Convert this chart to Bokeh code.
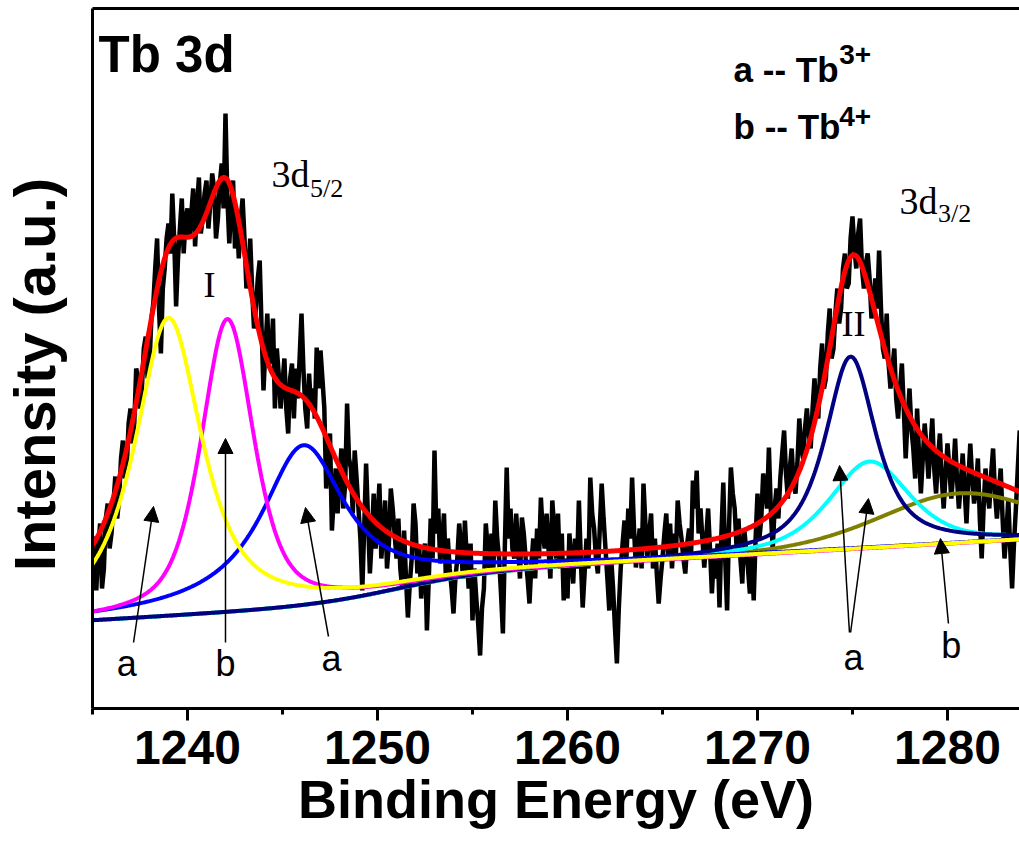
import numpy as np
from bokeh.plotting import figure
from bokeh.layouts import row
from bokeh.models import (Range1d, LinearAxis, FixedTicker, Label, Arrow,
                          NormalHead, SingleIntervalTicker)
from bokeh.embed import file_html
from bokeh.resources import INLINE

# ---------------- data ----------------
# raw Tb 3d spectrum, 0.1 eV steps from 1235.0 eV (arbitrary units)
energy_start = 1235.0
energy_step = 0.1
raw_counts = [
    150, 172, 118, 160, 185, 120, 140, 190, 205, 160,   # 1235
    175, 205, 232, 190, 210, 250, 268, 230, 240, 285,   # 1236
    300, 265, 285, 340, 330, 300, 320, 360, 372, 330,   # 1237
    345, 390, 405, 440, 470, 400, 355, 420, 440, 470,   # 1238
    485, 455, 515, 470, 402, 450, 480, 510, 455, 490,   # 1239
    500, 470, 495, 520, 462, 500, 531, 475, 490, 515,   # 1240
    528, 480, 505, 535, 520, 470, 490, 525, 545, 500,   # 1241
    595, 510, 465, 500, 528, 460, 491, 450, 490, 510,   # 1242
    470, 420, 435, 470, 420, 380, 400, 430, 448, 380,   # 1243
    318, 360, 395, 345, 350, 390, 300, 360, 335, 300,   # 1244
    325, 350, 300, 275, 330, 345, 290, 340, 310, 350,   # 1245
    395, 340, 300, 280, 335, 300, 320, 290, 361, 320,   # 1246
    358, 330, 301, 220, 250, 275, 178, 210, 240, 195,   # 1247
    230, 260, 200, 225, 305, 250, 240, 195, 258, 230,   # 1248
    200, 170, 118, 180, 245, 190, 135, 170, 215, 160,   # 1249
    190, 225, 150, 175, 208, 140, 165, 220, 200, 175,   # 1250
    150, 190, 140, 120, 178, 130, 91, 125, 150, 205,    # 1251
    185, 135, 160, 110, 140, 165, 78, 130, 190, 150,    # 1252
    258, 175, 200, 145, 168, 195, 130, 170, 140, 120,   # 1253
    95, 130, 150, 185, 160, 130, 188, 150, 120, 165,    # 1254
    88, 140, 110, 85, 53, 100, 120, 185, 160, 135,      # 1255
    175, 140, 208, 170, 150, 115, 75, 160, 241, 170,    # 1256
    200, 160, 150, 195, 160, 130, 191, 175, 150, 130,   # 1257
    105, 145, 170, 130, 180, 150, 211, 175, 160, 195,   # 1258
    160, 130, 208, 180, 150, 195, 140, 175, 108, 150,   # 1259
    110, 175, 150, 125, 170, 140, 208, 150, 101, 135,   # 1260
    170, 140, 231, 195, 180, 150, 135, 180, 225, 190,   # 1261
    160, 130, 98, 150, 120, 80, 45, 100, 140, 165,      # 1262
    188, 150, 200, 170, 231, 180, 141, 160, 180, 140,   # 1263
    225, 185, 150, 175, 195, 140, 170, 135, 105, 130,   # 1264
    150, 175, 195, 150, 185, 140, 175, 150, 208, 185,   # 1265
    170, 150, 135, 165, 180, 150, 228, 200, 238, 175,   # 1266
    200, 170, 141, 170, 200, 160, 115, 150, 130, 165,   # 1267
    101, 175, 226, 150, 98, 180, 241, 215, 200, 160,    # 1268
    190, 150, 125, 180, 160, 140, 115, 155, 108, 170,   # 1269
    215, 170, 190, 235, 220, 200, 261, 200, 158, 200,   # 1270
    220, 190, 230, 255, 278, 235, 210, 240, 260, 225,   # 1271
    215, 245, 290, 260, 250, 280, 300, 275, 260, 300,   # 1272
    330, 300, 290, 340, 365, 320, 330, 375, 400, 350,   # 1273
    360, 395, 420, 385, 400, 440, 455, 420, 425, 470,   # 1274
    492, 460, 440, 475, 490, 440, 420, 445, 455, 430,   # 1275
    390, 410, 430, 400, 458, 400, 360, 350, 395, 345,   # 1276
    320, 340, 360, 310, 290, 320, 345, 300, 250, 290,   # 1277
    320, 280, 260, 230, 300, 255, 215, 250, 285, 260,   # 1278
    230, 260, 290, 240, 215, 250, 275, 230, 200, 235,   # 1279
    265, 240, 210, 235, 270, 230, 200, 225, 255, 220,   # 1280
    185, 230, 265, 230, 205, 220, 250, 190, 150, 200,   # 1281
    240, 215, 200, 235, 260, 215, 190, 215, 240, 190,   # 1282
    150, 175, 210, 160, 120, 165, 200, 240, 278, 250,   # 1283
    230,                                                # 1284
]
energy = np.round(energy_start + energy_step * np.arange(len(raw_counts)), 2)

# fitted components: centre (eV), height, FWHM (eV), Lorentzian fraction
comp_colors = ["#808000", "#00ffff", "#000080", "#0000ff", "#ff00ff", "#ffff00"]
comp_center = [1280.6, 1275.9, 1274.9, 1246.1, 1242.1, 1239.0]
comp_height = [50, 87, 193, 160, 293, 298]
comp_fwhm = [10.0, 5.0, 3.2, 5.4, 3.3, 4.2]
comp_lorentz = [0.3, 0.6, 0.8, 1.0, 0.6, 0.8]

# background (Shirley-like step on a sloped line)
bg_level = 88.0
bg_slope = 1.1
bg_step = 27.0
bg_step_center = 1251.0
bg_step_width = 2.37

# ---------------- model curves ----------------
fine = np.linspace(1235.0, 1284.0, 981)
background = (bg_level + bg_slope * (fine - 1235.0)
              + bg_step / (1.0 + np.exp(-(fine - bg_step_center) / bg_step_width)))


def peak(x, c, h, w, eta):
    d = (x - c) / w
    return h * (eta / (1.0 + 4.0 * d * d) + (1.0 - eta) * np.exp(-4.0 * np.log(2) * d * d))


components = [peak(fine, c, h, w, e) for c, h, w, e in
              zip(comp_center, comp_height, comp_fwhm, comp_lorentz)]
envelope = background + np.sum(components, axis=0)

AX_FONT = "Liberation Sans"
SERIF = "Liberation Serif"

# ---------------- narrow panel holding the vertical axis title ----------------
side = figure(width=82, height=855, output_backend="svg", toolbar_location=None,
              x_range=Range1d(0, 82), y_range=Range1d(0, 855), min_border=0,
              x_axis_location=None, y_axis_location=None)
side.outline_line_color = None
side.grid.visible = False
side.add_layout(Label(x=34, y=408, text="Intensity (a.u.)", text_font=AX_FONT,
                      text_font_style="bold", text_font_size="58px",
                      text_align="center", text_baseline="middle",
                      text_color="black", angle=np.pi / 2))

# ---------------- main figure ----------------
p = figure(width=937, height=855, output_backend="svg", toolbar_location=None,
           x_range=Range1d(1235.0, 1283.79), y_range=Range1d(0, 700),
           min_border_left=10, min_border_right=0, min_border_top=8,
           min_border_bottom=147, x_axis_location=None, y_axis_location=None)
p.outline_line_color = None
p.grid.visible = False
p.background_fill_color = "white"

xaxis = LinearAxis(ticker=SingleIntervalTicker(interval=10, num_minor_ticks=2),
                   axis_label="Binding Energy (eV)")
xaxis.axis_line_width = 3
xaxis.major_tick_line_width = 3
xaxis.minor_tick_line_width = 3
xaxis.major_tick_out = 12
xaxis.major_tick_in = 0
xaxis.minor_tick_out = 6
xaxis.minor_tick_in = 0
xaxis.major_label_text_font = AX_FONT
xaxis.major_label_text_font_style = "bold"
xaxis.major_label_text_font_size = "48px"
xaxis.major_label_text_color = "black"
xaxis.major_label_standoff = 10
xaxis.axis_label_text_font = AX_FONT
xaxis.axis_label_text_font_style = "bold"
xaxis.axis_label_text_font_size = "54px"
xaxis.axis_label_text_color = "black"
xaxis.axis_label_standoff = 2
p.add_layout(xaxis, "below")

yaxis = LinearAxis(ticker=FixedTicker(ticks=[]))
yaxis.axis_line_width = 3
yaxis.major_tick_out = 0
yaxis.minor_tick_out = 0
yaxis.major_label_text_font_size = "0px"
yaxis.major_label_standoff = 0
p.add_layout(yaxis, "left")

top = LinearAxis(ticker=FixedTicker(ticks=[]))
top.axis_line_width = 3
top.major_tick_out = 0
top.minor_tick_out = 0
top.major_label_text_font_size = "0px"
p.add_layout(top, "above")

# ---------------- curves ----------------
p.line(energy, raw_counts, line_color="black", line_width=4.5)
for col, comp in zip(comp_colors, components):
    p.line(fine, background + comp, line_color=col, line_width=4)
p.line(fine, envelope, line_color="#ff0000", line_width=5)

# ---------------- annotations ----------------
def lab(x, y, text, size, font=AX_FONT, style="normal", align="left",
        baseline="alphabetic"):
    p.add_layout(Label(x=x, y=y, text=text, text_font=font, text_font_style=style,
                       text_font_size=size, text_align=align, text_baseline=baseline,
                       text_color="black"))

lab(1235.32, 654, "Tb 3d", "51px", style="bold")
lab(1268.74, 639, "a -- Tb", "35px", style="bold")
lab(1274.3, 654, "3+", "28px", style="bold")
lab(1268.74, 582, "b -- Tb", "35px", style="bold")
lab(1274.3, 592, "4+", "28px", style="bold")

lab(1244.42, 535, "3d", "38px", font=SERIF)
lab(1246.45, 520, "5/2", "26px", font=SERIF)
lab(1277.47, 508, "3d", "38px", font=SERIF)
lab(1279.5, 495, "3/2", "26px", font=SERIF)
lab(1241.16, 424, "I", "36px", font=SERIF, align="center")
lab(1275.05, 385, "II", "36px", font=SERIF, align="center")

for x, y, t in [(1236.8, 45, "a"), (1242.0, 45, "b"), (1247.58, 50, "a"),
                (1275.05, 51, "a"), (1280.2, 63, "b")]:
    lab(x, y, t, "36px", align="center", baseline="middle")

arrows = [((1237.16, 66), (1238.21, 202)),
          ((1242.0, 66), (1242.0, 270)),
          ((1247.42, 72), (1246.21, 201)),
          ((1274.84, 76), (1274.32, 243)),
          ((1274.9, 76), (1275.84, 210)),
          ((1280.05, 85), (1279.63, 170))]
for (xs, ys), (xe, ye) in arrows:
    p.add_layout(Arrow(end=NormalHead(size=15, fill_color="black", line_color="black",
                                      line_width=1),
                       x_start=xs, y_start=ys, x_end=xe, y_end=ye,
                       line_color="black", line_width=1.5))

layout = row(side, p, spacing=0)
open("out.html", "w").write(file_html(layout, INLINE))
